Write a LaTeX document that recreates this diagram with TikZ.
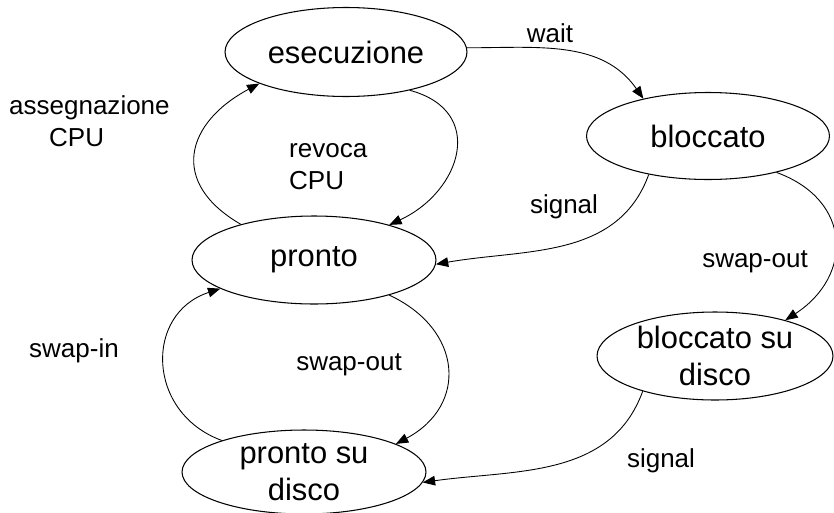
\documentclass[tikz,border=0pt]{standalone}
\usepackage{fontspec}
\setmainfont{Liberation Sans}
\usetikzlibrary{shapes.geometric,arrows.meta}
\tikzset{
    stato/.style={draw,ellipse,line width=0.6pt,inner sep=0pt,align=center,font=\fontsize{17.6}{21}\selectfont},
    etichetta/.style={align=center,font=\fontsize{14.8}{18.2}\selectfont},
    freccia/.style={line width=0.5pt,-{Triangle[length=7pt,width=5.5pt]}}
}
\begin{document}
\begin{tikzpicture}[x=0.02cm,y=0.02cm]
        \useasboundingbox (0,0) rectangle (834,512);

        \node[stato,minimum width=4.84cm,minimum height=1.78cm] (esec) at (346,460) {esecuzione};
        \node[stato,minimum width=4.86cm,minimum height=1.74cm] (blocc) at (708,376) {bloccato};
        \node[stato,minimum width=4.88cm,minimum height=1.76cm] (pronto) at (314,252) {pronto};
        \node[stato,minimum width=4.72cm,minimum height=1.76cm,inner ysep=-4pt] (bsd) at (715,156) {bloccato su\\disco};
        \node[stato,minimum width=4.88cm,minimum height=1.68cm,inner ysep=-4pt] (psd) at (304,40) {pronto su\\disco};

        \draw[freccia] (esec.2) to[out=0,in=125] (blocc.150);
        \node[etichetta] (lwait) at (550,479) {wait};

        \draw[freccia] (esec.-31) to[out=-15,in=25,looseness=1.5] (pronto.25);
        \node[etichetta,align=left,anchor=west] (lrevoca) at (283,345) {revoca\\CPU};

        \draw[freccia] (pronto.154) to[out=150,in=208,looseness=1.5] (esec.200);
        \node[etichetta,align=left,anchor=west] (lassegna) at (3,391) {assegnazione\\\hspace*{0.8cm}CPU};

        \draw[freccia] (blocc.213) to[out=250,in=10] (pronto.-2);
        \node[etichetta] (lsignal1) at (564,305) {signal};

        \draw[freccia] (blocc.-28) to[out=-20,in=33,looseness=1.4] (bsd.27);
        \node[etichetta] (lswapout1) at (755,250) {swap-out};

        \draw[freccia] (bsd.206) to[out=250,in=8] (psd.-5);
        \node[etichetta] (lsignal2) at (661,51) {signal};

        \draw[freccia] (pronto.-25) to[out=-25,in=28,looseness=1.4] (psd.17);
        \node[etichetta] (lswapout2) at (349,147) {swap-out};

        \draw[freccia] (psd.159) to[out=160,in=198,looseness=1.35] (pronto.197);
        \node[etichetta] (lswapin) at (74,161) {swap-in};
\end{tikzpicture}
\end{document}
